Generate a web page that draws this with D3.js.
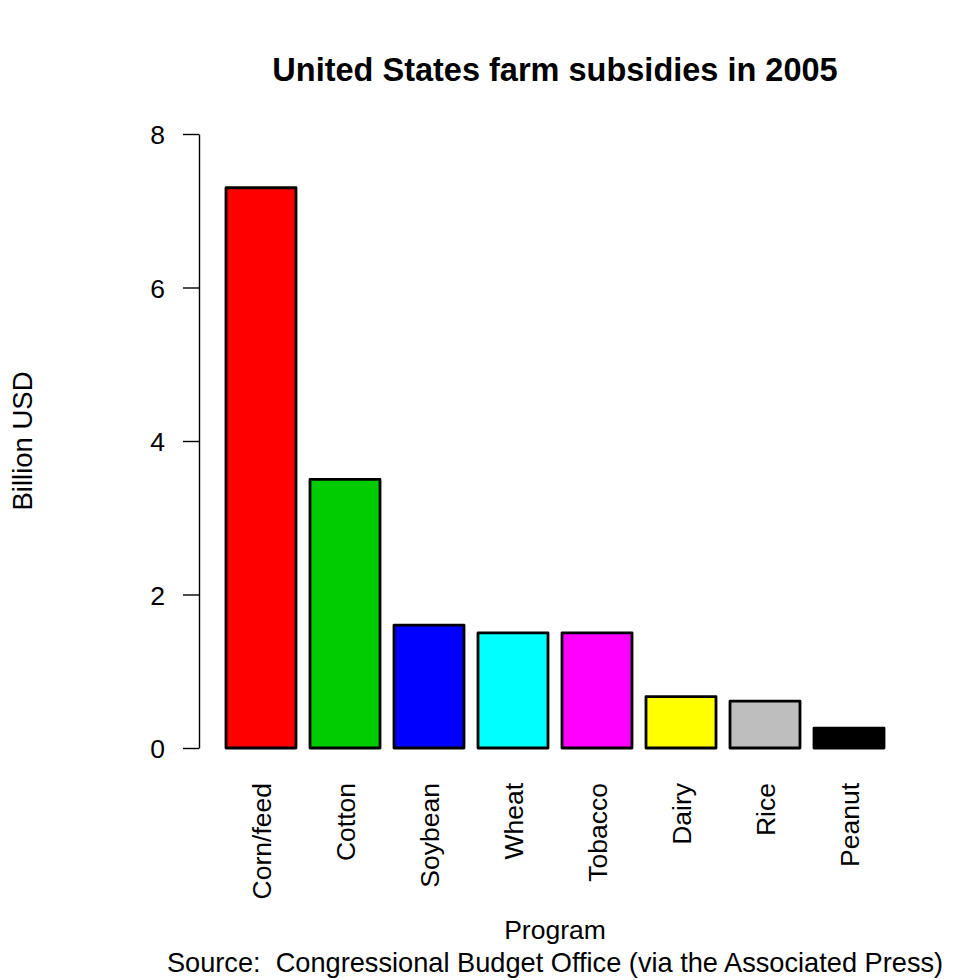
<!DOCTYPE html>
<html>
<head>
<meta charset="utf-8">
<script src="https://cdn.jsdelivr.net/npm/d3@7"></script>
<style>
  body { margin: 0; background: #fff; }
  text { font-family: "Liberation Sans", Arial, sans-serif; fill: #000; }
</style>
</head>
<body>
<div id="chart"></div>
<script>
// data
var programs = ["Corn/feed", "Cotton", "Soybean", "Wheat", "Tobacco", "Dairy", "Rice", "Peanut"];
var subsidies = [7.3, 3.5, 1.6, 1.5, 1.5, 0.67, 0.61, 0.26];
var barColors = ["#FF0000", "#00CD00", "#0000FF", "#00FFFF", "#FF00FF", "#FFFF00", "#BEBEBE", "#000000"];
var yTicks = [0, 2, 4, 6, 8];

var W = 980, H = 980;
var fontSize = "26.5px";

var svg = d3.select("#chart").append("svg")
  .attr("width", W)
  .attr("height", H);

//////////////////// scales ////////////////////
var x = d3.scaleBand()
  .domain(programs)
  .range([212, 898])
  .paddingInner(1 / 6)
  .paddingOuter(1 / 6);

var y = d3.scaleLinear()
  .domain([0, 8])
  .range([748, 134]);

var color = d3.scaleOrdinal()
  .domain(programs)
  .range(barColors);

//////////////////// bars ////////////////////
svg.selectAll("rect.bar")
  .data(programs)
  .enter().append("rect")
  .attr("class", "bar")
  .attr("x", function(d) { return x(d); })
  .attr("width", x.bandwidth())
  .attr("y", function(d, i) { return y(subsidies[i]); })
  .attr("height", function(d, i) { return y(0) - y(subsidies[i]); })
  .style("fill", function(d) { return color(d); })
  .style("stroke", "#000")
  .style("stroke-width", 2.8)
  .style("stroke-linejoin", "round");

//////////////////// y axis ////////////////////
var yAxis = svg.append("g")
  .attr("transform", "translate(199,0)")
  .call(d3.axisLeft(y).tickValues(yTicks).tickSize(16).tickPadding(18).tickSizeOuter(0));

yAxis.select(".domain").attr("stroke-width", 1.4);
yAxis.selectAll(".tick line").attr("stroke-width", 1.4);
yAxis.selectAll(".tick text")
  .style("font-size", fontSize)
  .style("font-family", "Liberation Sans, Arial, sans-serif")
  .attr("dy", "0.36em");

//////////////////// x labels (vertical) ////////////////////
svg.selectAll("text.xlab")
  .data(programs)
  .enter().append("text")
  .attr("class", "xlab")
  .attr("transform", function(d) {
    return "translate(" + (x(d) + x.bandwidth() / 2) + ",783) rotate(-90)";
  })
  .attr("text-anchor", "end")
  .attr("dy", "0.36em")
  .style("font-size", fontSize)
  .text(function(d) { return d; });

//////////////////// titles ////////////////////
svg.append("text")
  .attr("x", 555)
  .attr("y", 81)
  .attr("text-anchor", "middle")
  .style("font-size", "32.5px")
  .style("font-weight", "bold")
  .text("United States farm subsidies in 2005");

svg.append("text")
  .attr("transform", "translate(32,441) rotate(-90)")
  .attr("text-anchor", "middle")
  .style("font-size", "27.5px")
  .text("Billion USD");

svg.append("text")
  .attr("x", 555)
  .attr("y", 939)
  .attr("text-anchor", "middle")
  .style("font-size", fontSize)
  .text("Program");

svg.append("text")
  .attr("x", 555)
  .attr("y", 972)
  .attr("text-anchor", "middle")
  .style("font-size", "27.2px")
  .style("white-space", "pre")
  .text("Source:  Congressional Budget Office (via the Associated Press)");
</script>
</body>
</html>
